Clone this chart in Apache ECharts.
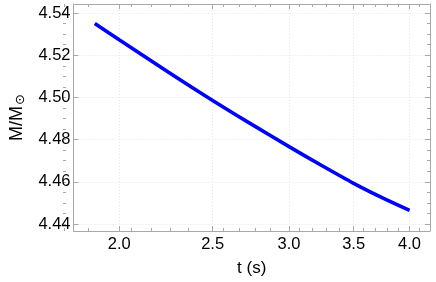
<!DOCTYPE html>
<html>
<head>
<meta charset="utf-8">
<script src="https://cdn.jsdelivr.net/npm/echarts@6/dist/echarts.min.js"></script>
<style>
html,body{margin:0;padding:0;background:#fff;}
#chart{width:436px;height:282px;}
</style>
</head>
<body>
<div id="chart"></div>
<script>
// ---- data ----
const tValues = [1.887, 2.0, 2.25, 2.5, 2.75, 3.0, 3.25, 3.5, 3.75, 4.0];
const massValues = [4.5351, 4.5274, 4.5120, 4.4986, 4.4870, 4.4767, 4.4675, 4.4593, 4.4524, 4.4465];
const xTickLabels = [2.0, 2.5, 3.0, 3.5, 4.0];
const xMinorTicks = [1.8, 1.9, 2.1, 2.2, 2.3, 2.4, 2.6, 2.7, 2.8, 2.9, 3.1, 3.2, 3.3, 3.4, 3.6, 3.7, 3.8, 3.9, 4.1, 4.2];
const yTickLabels = [4.44, 4.46, 4.48, 4.50, 4.52, 4.54];
const yMinorTicks = [4.44, 4.445, 4.45, 4.455, 4.46, 4.465, 4.47, 4.475, 4.48, 4.485, 4.49, 4.495, 4.50, 4.505, 4.51, 4.515, 4.52, 4.525, 4.53, 4.535, 4.54];
const xRange = [1.7935, 4.2];
const yRange = [4.4367, 4.5443];

// x axis is logarithmic: plot in ln(t) space
const ln = Math.log;
const seriesData = tValues.map((t, i) => [ln(t), massValues[i]]);
const xMin = ln(xRange[0]), xMax = ln(xRange[1]);

const frameColor = '#a8a8a8';
const font = 'Liberation Sans, Arial, sans-serif';
const gridPos = {left: 63, right: 6, top: 4, bottom: 51};

function xAxisBase(gridIndex, position) {
  return {
    type: 'value', gridIndex, position, min: xMin, max: xMax,
    axisLine: {show: false}, axisLabel: {show: false},
    axisTick: {show: false}, splitLine: {show: false}
  };
}
function yAxisBase(gridIndex, position) {
  return {
    type: 'value', gridIndex, position, min: yRange[0], max: yRange[1],
    axisLine: {show: false}, axisLabel: {show: false},
    axisTick: {show: false}, splitLine: {show: false}
  };
}

const xMajor = xTickLabels.map(ln);
const xMinor = xMinorTicks.map(ln).filter(v => v >= xMin && v <= xMax);

const xAxes = [
  Object.assign(xAxisBase(0, 'bottom'), {
    axisLine: {show: true, onZero: false, lineStyle: {color: frameColor, width: 1}},
    axisTick: {show: true, inside: true, length: 5, customValues: xMajor, lineStyle: {color: frameColor}},
    axisLabel: {show: true, customValues: xMajor, margin: 5, color: '#000', fontSize: 16.5, fontFamily: font,
      formatter: v => Math.exp(v).toFixed(1)},
    splitLine: {show: true, lineStyle: {color: '#e4e4e4', type: [1, 2], width: 1}},
    name: 't (s)', nameLocation: 'middle', nameGap: 29,
    nameTextStyle: {color: '#000', fontSize: 17, fontFamily: font}
  }),
  Object.assign(xAxisBase(0, 'top'), {
    axisLine: {show: true, onZero: false, lineStyle: {color: frameColor, width: 1}},
    axisTick: {show: true, inside: true, length: 5, customValues: xMajor, lineStyle: {color: frameColor}}
  }),
  Object.assign(xAxisBase(1, 'bottom'), {
    axisTick: {show: true, inside: true, length: 3, customValues: xMinor, lineStyle: {color: frameColor}}
  }),
  Object.assign(xAxisBase(1, 'top'), {
    axisTick: {show: true, inside: true, length: 3, customValues: xMinor, lineStyle: {color: frameColor}}
  })
];

const yAxes = [
  Object.assign(yAxisBase(0, 'left'), {
    axisLine: {show: true, onZero: false, lineStyle: {color: frameColor, width: 1}},
    axisTick: {show: true, inside: true, length: 5, customValues: yTickLabels, lineStyle: {color: frameColor}},
    axisLabel: {show: true, customValues: yTickLabels, margin: 3, color: '#000', fontSize: 16.5, fontFamily: font,
      formatter: v => v.toFixed(2)},
    splitLine: {show: true, lineStyle: {color: '#e4e4e4', type: [1, 2], width: 1}},
    name: '{m|M/M}{s|⊙}', nameLocation: 'middle', nameGap: 42, nameRotate: 90,
    nameTextStyle: {
      rich: {
        m: {color: '#000', fontSize: 18, fontFamily: font},
        s: {color: '#000', fontSize: 13, fontFamily: 'DejaVu Sans, sans-serif', verticalAlign: 'bottom', padding: [8, 0, 0, 1]}
      }
    }
  }),
  Object.assign(yAxisBase(0, 'right'), {
    axisLine: {show: true, onZero: false, lineStyle: {color: frameColor, width: 1}},
    axisTick: {show: true, inside: true, length: 5, customValues: yTickLabels, lineStyle: {color: frameColor}}
  }),
  Object.assign(yAxisBase(1, 'left'), {
    axisTick: {show: true, inside: true, length: 3, customValues: yMinorTicks, lineStyle: {color: frameColor}}
  }),
  Object.assign(yAxisBase(1, 'right'), {
    axisTick: {show: true, inside: true, length: 3, customValues: yMinorTicks, lineStyle: {color: frameColor}}
  })
];

const chart = echarts.init(document.getElementById('chart'), null, {renderer: 'canvas'});
chart.setOption({
  animation: false,
  backgroundColor: '#fff',
  grid: [Object.assign({}, gridPos), Object.assign({}, gridPos)],
  xAxis: xAxes,
  yAxis: yAxes,
  series: [{
    type: 'line',
    xAxisIndex: 0, yAxisIndex: 0,
    data: seriesData,
    smooth: 0.3,
    showSymbol: false,
    lineStyle: {color: '#0000ff', width: 3.6, cap: 'butt'}
  }]
});
</script>
</body>
</html>
